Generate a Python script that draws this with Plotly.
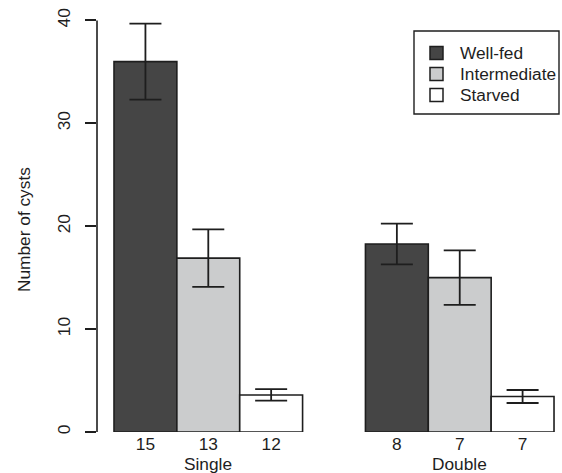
import plotly.graph_objects as go

# ---- data ----
groups = ["Single", "Double"]
conditions = ["Well-fed", "Intermediate", "Starved"]
well_fed = [36.0, 18.27]
intermediate = [16.9, 15.0]
starved = [3.6, 3.45]
well_fed_err = [3.7, 1.98]
intermediate_err = [2.8, 2.65]
starved_err = [0.56, 0.63]
sample_sizes = [["15", "8"], ["13", "7"], ["12", "7"]]  # per condition, per group
y_ticks = [0, 10, 20, 30, 40]

values = [well_fed, intermediate, starved]
errors = [well_fed_err, intermediate_err, starved_err]
colors = ["#454545", "#cbcccd", "#ffffff"]
ink = "#1e1e1e"
FONT = "Liberation Sans, Arial, sans-serif"
FS = 17.3

# bar positions: R barplot beside=TRUE, space=c(0,1)
n_cond = len(conditions)
def pos(g, c):
    return 1 + g * (n_cond + 1) + c + 0.5

fig = go.Figure()
for c, name in enumerate(conditions):
    fig.add_trace(go.Bar(
        x=[pos(g, c) for g in range(len(groups))],
        y=values[c],
        width=1.0,
        name=name,
        marker=dict(color=colors[c], line=dict(color=ink, width=1.6)),
        error_y=dict(type="data", array=errors[c], symmetric=True,
                     color=ink, thickness=1.8, width=16),
        hoverinfo="skip",
        showlegend=False,
    ))

tickvals, ticktext = [], []
for g in range(len(groups)):
    for c in range(n_cond):
        tickvals.append(pos(g, c))
        ticktext.append(sample_sizes[c][g])

W, H = 562, 473
ML, MR, MT, MB = 97, 0, 4, 41
PW, PH = W - ML - MR, H - MT - MB

def px_x(px):
    return (px - ML) / PW
def px_y(py):
    return (H - MB - py) / PH

annotations = []
for g, gname in enumerate(groups):
    annotations.append(dict(
        x=pos(g, 1), xref="x", y=px_y(463.5), yref="paper",
        text=gname, showarrow=False, xanchor="center", yanchor="middle",
        font=dict(family=FONT, size=FS, color=ink)))
annotations.append(dict(
    x=px_x(24), xref="paper", y=px_y(230), yref="paper",
    text="Number of cysts", textangle=-90, showarrow=False,
    xanchor="center", yanchor="middle",
    font=dict(family=FONT, size=FS, color=ink)))

shapes = [
    # R-style y axis line spanning only the tick range
    dict(type="line", xref="paper", yref="y", x0=0, x1=0,
         y0=y_ticks[0], y1=y_ticks[-1], line=dict(color=ink, width=1.6)),
    # legend frame
    dict(type="rect", xref="paper", yref="paper",
         x0=px_x(414), x1=px_x(559), y0=px_y(114), y1=px_y(31),
         line=dict(color=ink, width=1.4), fillcolor="rgba(0,0,0,0)"),
]

# legend entries (R-style legend box)
row_y = [53, 74, 95]
for c, name in enumerate(conditions):
    cy = row_y[c]
    shapes.append(dict(
        type="rect", xref="paper", yref="paper",
        x0=px_x(430), x1=px_x(443), y0=px_y(cy + 6.5), y1=px_y(cy - 6.5),
        line=dict(color=ink, width=1.5), fillcolor=colors[c]))
    annotations.append(dict(
        x=px_x(458), xref="paper", y=px_y(cy), yref="paper",
        text=name, showarrow=False, xanchor="left", yanchor="middle",
        font=dict(family=FONT, size=FS, color=ink)))

fig.update_layout(
    width=W, height=H,
    margin=dict(l=ML, r=MR, t=MT, b=MB, autoexpand=False),
    paper_bgcolor="white", plot_bgcolor="white",
    barmode="overlay",
    showlegend=False,
    font=dict(family=FONT, size=FS, color=ink),
    xaxis=dict(range=[1 - 17 / 62.86, 1 - 17 / 62.86 + PW / 62.86],
               tickvals=tickvals, ticktext=ticktext, ticks="",
               showline=False, showgrid=False, zeroline=False,
               tickfont=dict(family=FONT, size=FS, color=ink),
               ticklabelstandoff=0, fixedrange=True),
    yaxis=dict(range=[0, 41.6], tickvals=y_ticks, ticks="outside",
               ticklen=11, tickwidth=1.6, tickcolor=ink,
               tickangle=-90, showline=False, showgrid=False,
               zeroline=False, ticklabelstandoff=8,
               tickfont=dict(family=FONT, size=FS, color=ink),
               fixedrange=True),
    annotations=annotations,
    shapes=shapes,
)

fig.write_html("out.html", config={"displayModeBar": False},
               post_script="document.body.style.margin='0px';"
                           "document.body.style.overflow='hidden';")
